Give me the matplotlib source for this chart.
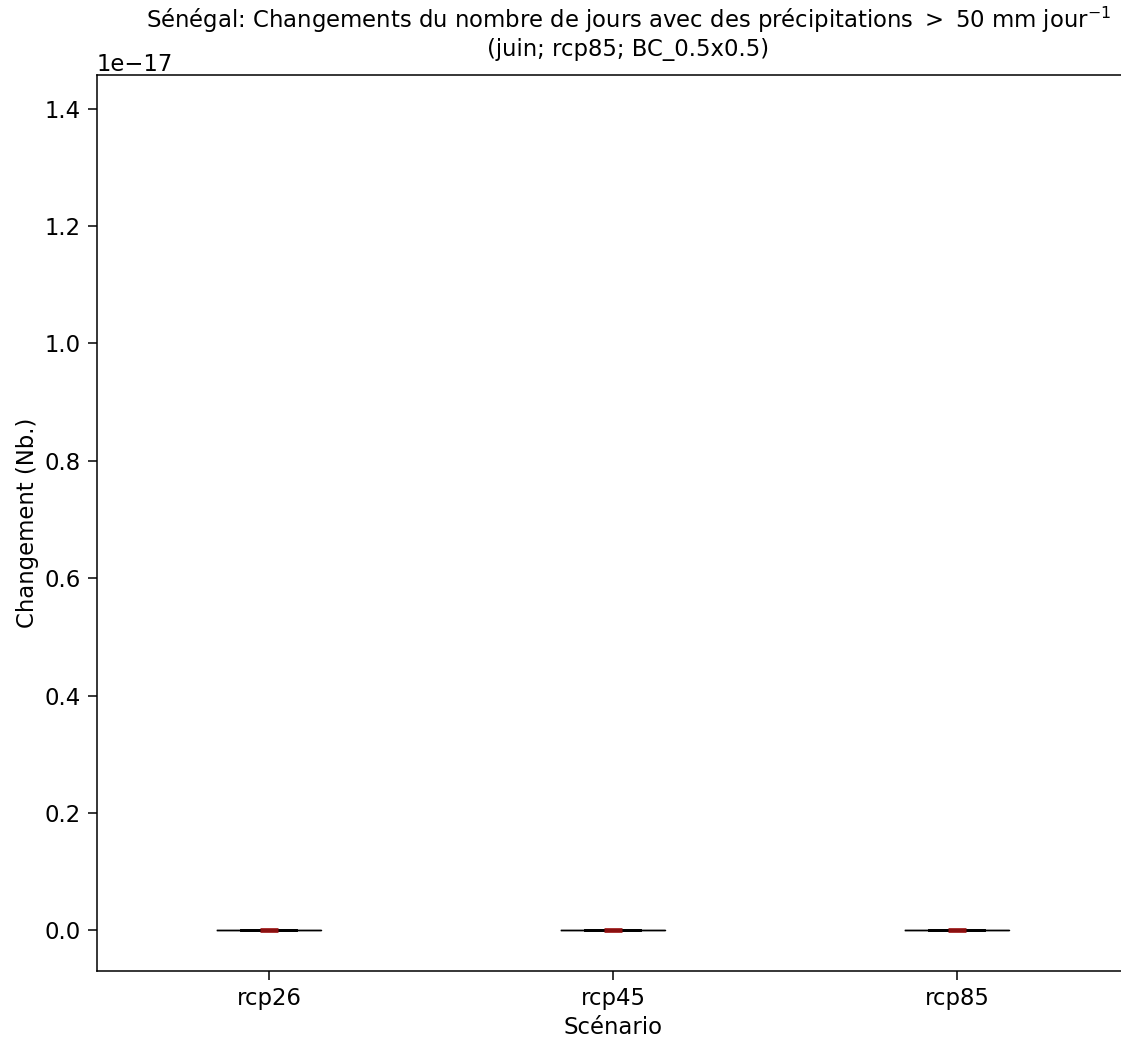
import numpy as np
import matplotlib
matplotlib.use("Agg")
import matplotlib.pyplot as plt

# Données: changements (Nb. de jours) par scénario -- tous nuls
scenarios = ["rcp26", "rcp45", "rcp85"]
rcp26 = [0.0, 0.0, 0.0, 0.0, 0.0]
rcp45 = [0.0, 0.0, 0.0, 0.0, 0.0]
rcp85 = [0.0, 0.0, 0.0, 0.0, 0.0]
# bruit numérique qui fixe l'échelle de l'axe y
y_noise_max = 1.3877787807814457e-17

data = [rcp26, rcp45, rcp85]
pos = np.arange(len(scenarios))
fs = 16.4

fig = plt.figure(figsize=(11.21, 10.43), dpi=100)
ax = fig.add_axes([0.0865, 0.069, 0.9206, 0.859])

ax.boxplot(data, positions=pos, widths=0.3, capwidths=0.16,
           showfliers=False,
           boxprops=dict(color="black", linewidth=1.0),
           whiskerprops=dict(color="black", linewidth=1.0),
           capprops=dict(color="black", linewidth=2.0),
           medianprops=dict(visible=False),
           showmeans=True,
           meanprops=dict(marker="_", markersize=12.5, markeredgewidth=3.5,
                          markeredgecolor="#9a1212", alpha=0.9))

ax.set_xticks(pos)
ax.set_xticklabels(scenarios, fontsize=fs)
ax.tick_params(axis="y", labelsize=fs)
ax.tick_params(length=6.8, width=1.1, pad=4.8)
for sp in ax.spines.values():
    sp.set_linewidth(1.1)
ax.yaxis.get_offset_text().set_fontsize(fs)
ax.set_xlim(-0.5, 2.5)
rng = y_noise_max - 0.0
ax.set_ylim(0.0 - 0.05 * rng, y_noise_max + 0.05 * rng)

ax.set_xlabel("Scénario", fontsize=fs)
ax.set_ylabel("Changement (Nb.)", fontsize=fs)
ax.set_title("Sénégal: Changements du nombre de jours avec des précipitations $>$ 50 mm jour$^{-1}$\n"
             "(juin; rcp85; BC_0.5x0.5)", fontsize=fs, x=0.515, y=1.021, pad=0)

fig.savefig("out.png", dpi=100)
